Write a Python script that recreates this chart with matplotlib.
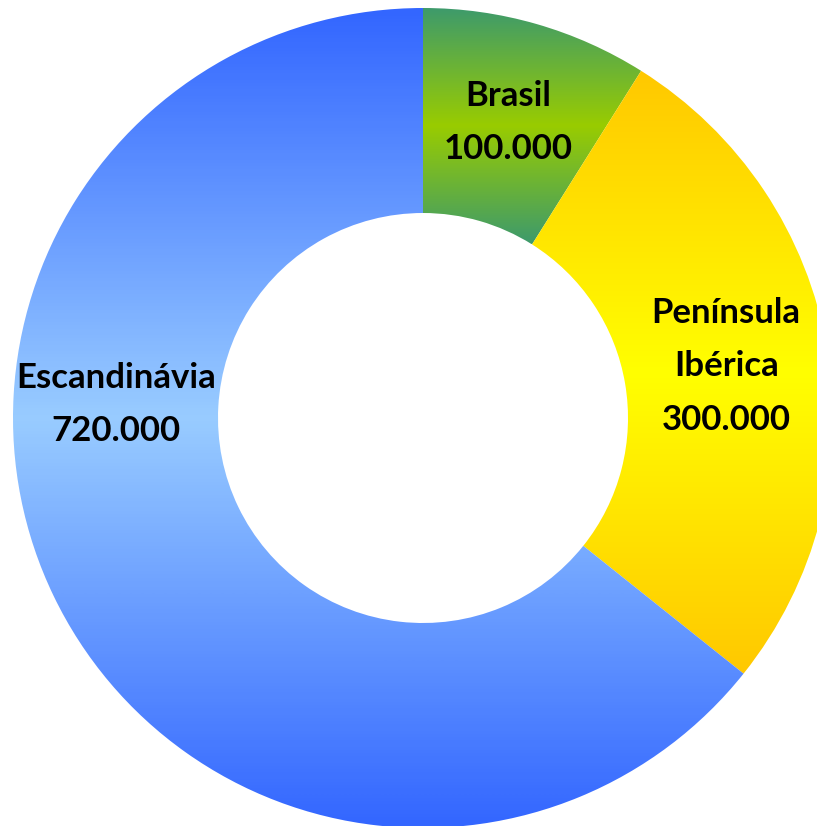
import matplotlib
matplotlib.use('Agg')
import matplotlib.pyplot as plt
import numpy as np
from matplotlib.colors import LinearSegmentedColormap

# dados
labels = ['Brasil', 'Península\nIbérica', 'Escandinávia']
values = [100000, 300000, 720000]
# cores do gradiente: (borda, meio)
grad_colors = [('#3d9a6c', '#99cc00'),
               ('#ffc800', '#ffff00'),
               ('#3366ff', '#99ccff')]

plt.rcParams['font.family'] = ['Lato', 'DejaVu Sans']

W, H = 817, 826
fig = plt.figure(figsize=(W / 100, H / 100), dpi=100)
ax = fig.add_axes([0, 0, 1, 1])
ax.set_aspect('equal')
ax.axis('off')

# centro em (423, 418) px, raio 410 px
R_px = 410
cx, cy = 423, 418

wedges, _ = ax.pie(values, startangle=90, counterclock=False, radius=1.0,
                   wedgeprops=dict(width=0.5, edgecolor='none', linewidth=0),
                   normalize=True)

for w, (edge, mid) in zip(wedges, grad_colors):
    w.set_facecolor('none')
    ext = w.get_path().get_extents()
    cmap = LinearSegmentedColormap.from_list('g', [edge, mid, edge])
    grad = np.linspace(0, 1, 256).reshape(-1, 1)
    im = ax.imshow(grad, cmap=cmap, aspect='auto', origin='lower',
                   extent=[ext.x0, ext.x1, ext.y0, ext.y1],
                   interpolation='bilinear', zorder=1)
    im.set_clip_path(w)

ax.set_xlim(-cx / R_px, (W - cx) / R_px)
ax.set_ylim(-(H - cy) / R_px, cy / R_px)

# rótulos
label_angle = {2: 177.5}
for i, w in enumerate(wedges):
    ang = label_angle.get(i, (w.theta1 + w.theta2) / 2)
    r = 0.75
    x = r * np.cos(np.deg2rad(ang))
    y = r * np.sin(np.deg2rad(ang))
    txt = f"{labels[i]}\n{values[i]:,}".replace(',', '.')
    ax.text(x, y, txt, ha='center', va='center', fontsize=25,
            fontweight='bold', color='black', linespacing=1.82, zorder=3)

fig.savefig('out.png', dpi=100, facecolor='white')
